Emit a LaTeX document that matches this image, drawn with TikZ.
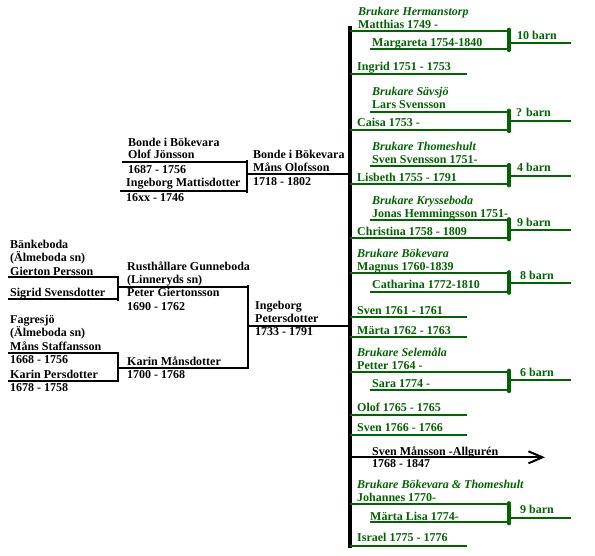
\documentclass[tikz,border=0pt]{standalone}
\usepackage{fontspec}
\setmainfont{Liberation Serif}
\usetikzlibrary{arrows.meta}
\definecolor{kingreen}{RGB}{0,100,0}

\begin{document}
\begin{tikzpicture}[x=1pt, y=-1pt,
  person/.style={anchor=base west, inner sep=0pt, font=\bfseries\fontsize{12}{14}\selectfont},
  kin/.style={person, text=kingreen},
  farm/.style={kin, font=\bfseries\itshape\fontsize{12}{14}\selectfont},
  bline/.style={draw=black, line width=2pt},
  bbrk/.style={draw=black, line width=2.8pt, shorten <=-1.5pt, shorten >=-1.5pt},
  gline/.style={draw=kingreen, line width=2pt},
  gbrk/.style={draw=kingreen, line width=3.2pt, line cap=round, shorten <=-1.5pt, shorten >=-1.5pt}
]
\useasboundingbox (0,0) rectangle (595,555);

% main line of the children
\coordinate (spineT) at (350,26);
\coordinate (spineB) at (350,548);
\coordinate (indent) at (370,0);
\coordinate (kidE) at (467,0);
\coordinate (barnE) at (571,0);
\draw[line width=3.4pt] (spineT) -- (spineB);

% father's parents
\node[person] (bonde1) at (128,146.7) {Bonde i Bökevara};
\node[person] (olof) at (128,158.3) {Olof Jönsson};
\node[person] (olofyr) at (128,173.3) {1687 - 1756};
\node[person] (ingebM) at (126,186.7) {Ingeborg Mattisdotter};
\node[person] (ingebMyr) at (126,201.7) {16xx - 1746};
\coordinate (olofL) at (122,161.7);
\coordinate (olofR) at (247,161.7);
\coordinate (ingebML) at (120,191);
\coordinate (ingebMR) at (247,191);
\coordinate (olofJ) at (247,174.3);
\draw[bline] (olofL) -- (olofR);
\draw[bline] (ingebML) -- (ingebMR);
\draw[bbrk] (olofR) -- (ingebMR);
\draw[bline] (olofJ) -- (spineT |- olofJ);

% father
\node[person] (bonde2) at (253,158.3) {Bonde i Bökevara};
\node[person] (mans) at (253,171.7) {Måns Olofsson};
\node[person] (mansyr) at (253,185) {1718 - 1802};

% mother's grandparents
\node[person] (bank) at (10,248.3) {Bänkeboda};
\node[person] (bankSn) at (10,261.7) {(Älmeboda sn)};
\node[person] (gierton) at (10,275) {Gierton Persson};
\node[person] (sigrid) at (10,296.7) {Sigrid Svensdotter};
\coordinate (giertonL) at (8,277.3);
\coordinate (giertonR) at (118,277.3);
\coordinate (sigridL) at (8,299);
\coordinate (sigridR) at (118,299);
\coordinate (giertonJ) at (118,286.7);

\node[person] (fagr) at (10,323.3) {Fagresjö};
\node[person] (fagrSn) at (10,336.7) {(Älmeboda sn)};
\node[person] (mansS) at (10,350) {Måns Staffansson};
\node[person] (mansSyr) at (10,363.3) {1668 - 1756};
\node[person] (karinP) at (10,378.3) {Karin Persdotter};
\node[person] (karinPyr) at (10,391.7) {1678 - 1758};
\coordinate (mansSL) at (8,353.3);
\coordinate (mansSR) at (118,353.3);
\coordinate (karinPL) at (8,380.7);
\coordinate (karinPR) at (118,380.7);
\coordinate (mansSJ) at (118,367.7);

% mother's parents
\node[person] (rust) at (127,270) {Rusthållare Gunneboda};
\node[person] (rustSn) at (127,283.3) {(Linneryds sn)};
\node[person] (peter) at (127,296.7) {Peter Giertonsson};
\node[person] (peteryr) at (127,310) {1690 - 1762};
\node[person] (karinM) at (127,365) {Karin Månsdotter};
\node[person] (karinMyr) at (127,378.3) {1700 - 1768};
\coordinate (peterR) at (248,286.7);
\coordinate (karinMR) at (248,367.7);

% mother
\node[person] (ingebP) at (255,309.3) {Ingeborg};
\node[person] (ingebP2) at (255,322.7) {Petersdotter};
\node[person] (ingebPyr) at (255,335) {1733 - 1791};
\coordinate (ingebPJ) at (248,325.7);

\draw[bline] (giertonL) -- (giertonR);
\draw[bline] (sigridL) -- (sigridR);
\draw[bbrk] (giertonR) -- (sigridR);
\draw[bline] (giertonJ) -- (peterR);
\draw[bline] (mansSL) -- (mansSR);
\draw[bline] (karinPL) -- (karinPR);
\draw[bbrk] (mansSR) -- (karinPR);
\draw[bline] (mansSJ) -- (karinMR);
\draw[bbrk] (peterR) -- (karinMR);
\draw[bline] (ingebPJ) -- (spineT |- ingebPJ);

% children
\node[farm] (hermanstorp) at (358,15) {Brukare Hermanstorp};
\node[kin] (matthias) at (358,28.3) {Matthias 1749 -};
\node[kin] (margareta) at (372,46) {Margareta 1754-1840};
\node[kin] (barn1) at (517,39.3) {10 barn};
\coordinate (matthiasR) at (509,30.7);
\coordinate (margaretaR) at (509,49);
\coordinate (barn1L) at (509,43.3);
\draw[gline] (spineT |- matthiasR) -- (matthiasR);
\draw[gline] (indent |- margaretaR) -- (margaretaR);
\draw[gbrk] (matthiasR) -- (margaretaR);
\draw[gline] (barn1L) -- (barnE |- barn1L);

\node[kin] (ingrid) at (357,70.7) {Ingrid 1751 - 1753};
\coordinate (ingridY) at (350,73.7);
\draw[gline] (ingridY) -- (kidE |- ingridY);

\node[farm] (savsjo) at (372,95) {Brukare Sävsjö};
\node[kin] (lars) at (372,108.3) {Lars Svensson};
\node[kin] (caisa) at (357,126.7) {Caisa 1753 -};
\node[kin] (barn2) at (516,116.7) {? barn};
\coordinate (larsR) at (509,111.7);
\coordinate (caisaR) at (509,130);
\coordinate (barn2L) at (509,120.7);
\draw[gline] (indent |- larsR) -- (larsR);
\draw[gline] (spineT |- caisaR) -- (caisaR);
\draw[gbrk] (larsR) -- (caisaR);
\draw[gline] (barn2L) -- (barnE |- barn2L);

\node[farm] (thomeshult) at (372,150) {Brukare Thomeshult};
\node[kin] (svenS) at (372,163.3) {Sven Svensson 1751-};
\node[kin] (lisbeth) at (357,181.7) {Lisbeth 1755 - 1791};
\node[kin] (barn3) at (517,171.7) {4 barn};
\coordinate (svenSR) at (509,166);
\coordinate (lisbethR) at (509,184.3);
\coordinate (barn3L) at (509,175.7);
\draw[gline] (indent |- svenSR) -- (svenSR);
\draw[gline] (spineT |- lisbethR) -- (lisbethR);
\draw[gbrk] (svenSR) -- (lisbethR);
\draw[gline] (barn3L) -- (barnE |- barn3L);

\node[farm] (krysseboda) at (372,204) {Brukare Krysseboda};
\node[kin] (jonas) at (372,217.3) {Jonas Hemmingsson 1751-};
\node[kin] (christina) at (357,235) {Christina 1758 - 1809};
\node[kin] (barn4) at (517,226) {9 barn};
\coordinate (jonasR) at (509,220.3);
\coordinate (christinaR) at (509,238.3);
\coordinate (barn4L) at (509,230);
\draw[gline] (indent |- jonasR) -- (jonasR);
\draw[gline] (spineT |- christinaR) -- (christinaR);
\draw[gbrk] (jonasR) -- (christinaR);
\draw[gline] (barn4L) -- (barnE |- barn4L);

\node[farm] (bokevara) at (357,257.7) {Brukare Bökevara};
\node[kin] (magnus) at (357,270.7) {Magnus 1760-1839};
\node[kin] (catharina) at (372,288.3) {Catharina 1772-1810};
\node[kin] (barn5) at (520,279.3) {8 barn};
\coordinate (magnusR) at (509,273.3);
\coordinate (catharinaR) at (509,291.7);
\coordinate (barn5L) at (509,283.3);
\draw[gline] (spineT |- magnusR) -- (magnusR);
\draw[gline] (indent |- catharinaR) -- (catharinaR);
\draw[gbrk] (magnusR) -- (catharinaR);
\draw[gline] (barn5L) -- (barnE |- barn5L);

\node[kin] (sven1) at (357,314) {Sven 1761 - 1761};
\node[kin] (marta1) at (357,334) {Märta 1762 - 1763};
\coordinate (sven1Y) at (350,316.7);
\coordinate (marta1Y) at (350,336.7);
\draw[gline] (sven1Y) -- (kidE |- sven1Y);
\draw[gline] (marta1Y) -- (kidE |- marta1Y);

\node[farm] (selemala) at (357,356) {Brukare Selemåla};
\node[kin] (petter) at (357,369.3) {Petter 1764 -};
\node[kin] (sara) at (372,387.3) {Sara 1774 -};
\node[kin] (barn6) at (520,376) {6 barn};
\coordinate (petterR) at (509,371.7);
\coordinate (saraR) at (509,390);
\coordinate (barn6L) at (509,380);
\draw[gline] (spineT |- petterR) -- (petterR);
\draw[gline] (indent |- saraR) -- (saraR);
\draw[gbrk] (petterR) -- (saraR);
\draw[gline] (barn6L) -- (barnE |- barn6L);

\node[kin] (olof2) at (357,411.7) {Olof 1765 - 1765};
\node[kin] (sven2) at (357,431.7) {Sven 1766 - 1766};
\coordinate (olof2Y) at (350,415);
\coordinate (sven2Y) at (350,435);
\draw[gline] (olof2Y) -- (kidE |- olof2Y);
\draw[gline] (sven2Y) -- (kidE |- sven2Y);

\node[person] (allguren) at (372,455) {Sven Månsson -Allgurén};
\node[person] (allgurenyr) at (372,467.3) {1768 - 1847};
\coordinate (allgurenY) at (350,457.3);
\coordinate (allgurenE) at (545,457.3);
\draw[line width=2pt, -{Straight Barb[length=14pt, width=12pt, line width=2pt]}] (allgurenY) -- (allgurenE);

\node[farm] (bokthom) at (357,488.3) {Brukare Bökevara \& Thomeshult};
\node[kin] (johannes) at (357,501.7) {Johannes 1770-};
\node[kin] (martaL) at (370,520) {Märta Lisa 1774-};
\node[kin] (barn7) at (520,513.3) {9 barn};
\coordinate (johannesR) at (509,504.3);
\coordinate (martaLR) at (509,522.3);
\coordinate (barn7L) at (509,517.7);
\draw[gline] (spineT |- johannesR) -- (johannesR);
\draw[gline] (indent |- martaLR) -- (martaLR);
\draw[gbrk] (johannesR) -- (martaLR);
\draw[gline] (barn7L) -- (barnE |- barn7L);

\node[kin] (israel) at (357,541.7) {Israel 1775 - 1776};
\coordinate (israelY) at (350,546);
\draw[gline] (israelY) -- (kidE |- israelY);
\end{tikzpicture}
\end{document}
